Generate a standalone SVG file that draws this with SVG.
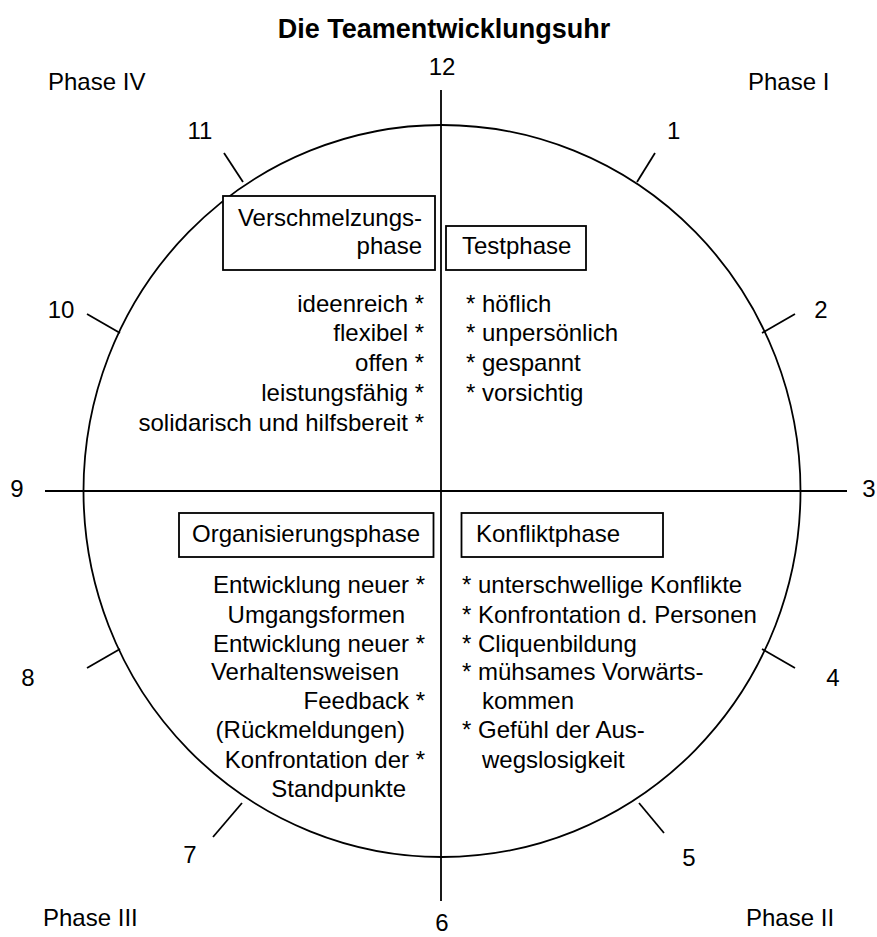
<svg xmlns="http://www.w3.org/2000/svg" width="877" height="937" viewBox="0 0 877 937">
  <style>
    .ln { stroke: #000; stroke-width: 1.8; fill: none; }
    .box { stroke: #000; stroke-width: 1.8; fill: #fff; }
    text { font-family: "Liberation Sans", Arial, sans-serif; font-size: 24px; fill: #000; }
    .title { font-size: 27px; font-weight: bold; }
    .end { text-anchor: end; }
    .mid { text-anchor: middle; }
  </style>
  <rect width="877" height="937" fill="#fff"/>

  <text class="title mid" x="444" y="38">Die Teamentwicklungsuhr</text>

  <!-- clock face, axes and hour ticks -->
  <g id="connectors">
    <ellipse class="ln" cx="442" cy="491" rx="358.5" ry="366"/>
    <line class="ln" x1="441" y1="90" x2="441" y2="901"/>
    <line class="ln" x1="45" y1="491" x2="847" y2="491"/>
    <line class="ln" x1="224" y1="153" x2="243" y2="182"/>
    <line class="ln" x1="655" y1="153" x2="637" y2="182"/>
    <line class="ln" x1="87" y1="314" x2="120" y2="333"/>
    <line class="ln" x1="795" y1="314" x2="762" y2="333"/>
    <line class="ln" x1="87" y1="668" x2="120" y2="649"/>
    <line class="ln" x1="795" y1="668" x2="762" y2="649"/>
    <line class="ln" x1="213" y1="837" x2="242" y2="803"/>
    <line class="ln" x1="664" y1="833" x2="639" y2="803"/>
  </g>

  <!-- hour numbers -->
  <g id="hours">
    <text class="mid" x="442" y="75">12</text>
    <text x="667" y="139">1</text>
    <text class="mid" x="821" y="318">2</text>
    <text class="mid" x="869" y="497">3</text>
    <text class="mid" x="833" y="686">4</text>
    <text class="mid" x="689" y="866">5</text>
    <text class="mid" x="442" y="931">6</text>
    <text class="mid" x="190" y="863">7</text>
    <text class="mid" x="28" y="686">8</text>
    <text class="mid" x="17" y="497">9</text>
    <text class="mid" x="61" y="318">10</text>
    <text class="mid" x="200" y="139">11</text>
  </g>

  <!-- phase labels -->
  <g id="phase-labels">
    <text x="48" y="90">Phase IV</text>
    <text x="748" y="90">Phase I</text>
    <text x="43" y="926">Phase III</text>
    <text x="746" y="926">Phase II</text>
  </g>

  <!-- Phase I -->
  <g id="testphase">
    <rect class="box" x="446" y="226" width="140" height="44"/>
    <text x="462" y="254">Testphase</text>
    <text x="466" y="312">* höflich</text>
    <text x="466" y="341">* unpersönlich</text>
    <text x="466" y="371">* gespannt</text>
    <text x="466" y="401">* vorsichtig</text>
  </g>

  <!-- Phase II -->
  <g id="konfliktphase">
    <rect class="box" x="461.5" y="513" width="201.5" height="44"/>
    <text x="476" y="542">Konfliktphase</text>
    <text x="462" y="593">* unterschwellige Konflikte</text>
    <text x="462" y="623">* Konfrontation d. Personen</text>
    <text x="462" y="652">* Cliquenbildung</text>
    <text x="462" y="680">* mühsames Vorwärts-</text>
    <text x="482" y="709">kommen</text>
    <text x="462" y="738">* Gefühl der Aus-</text>
    <text x="482" y="768">wegslosigkeit</text>
  </g>

  <!-- Phase III -->
  <g id="organisierungsphase">
    <rect class="box" x="179" y="513" width="254.5" height="44"/>
    <text x="192" y="542">Organisierungsphase</text>
    <text class="end" x="425" y="593">Entwicklung neuer *</text>
    <text class="end" x="405" y="623">Umgangsformen</text>
    <text class="end" x="425" y="652">Entwicklung neuer *</text>
    <text class="end" x="399" y="680">Verhaltensweisen</text>
    <text class="end" x="425" y="709">Feedback *</text>
    <text class="end" x="405" y="738">(Rückmeldungen)</text>
    <text class="end" x="425" y="768">Konfrontation der *</text>
    <text class="end" x="406" y="797">Standpunkte</text>
  </g>

  <!-- Phase IV -->
  <g id="verschmelzungsphase">
    <rect class="box" x="223" y="196" width="212" height="74"/>
    <text class="end" x="422" y="226">Verschmelzungs-</text>
    <text class="end" x="422" y="254">phase</text>
    <text class="end" x="424" y="312">ideenreich *</text>
    <text class="end" x="424" y="341">flexibel *</text>
    <text class="end" x="424" y="371">offen *</text>
    <text class="end" x="424" y="401">leistungsfähig *</text>
    <text class="end" x="424" y="431">solidarisch und hilfsbereit *</text>
  </g>
</svg>
